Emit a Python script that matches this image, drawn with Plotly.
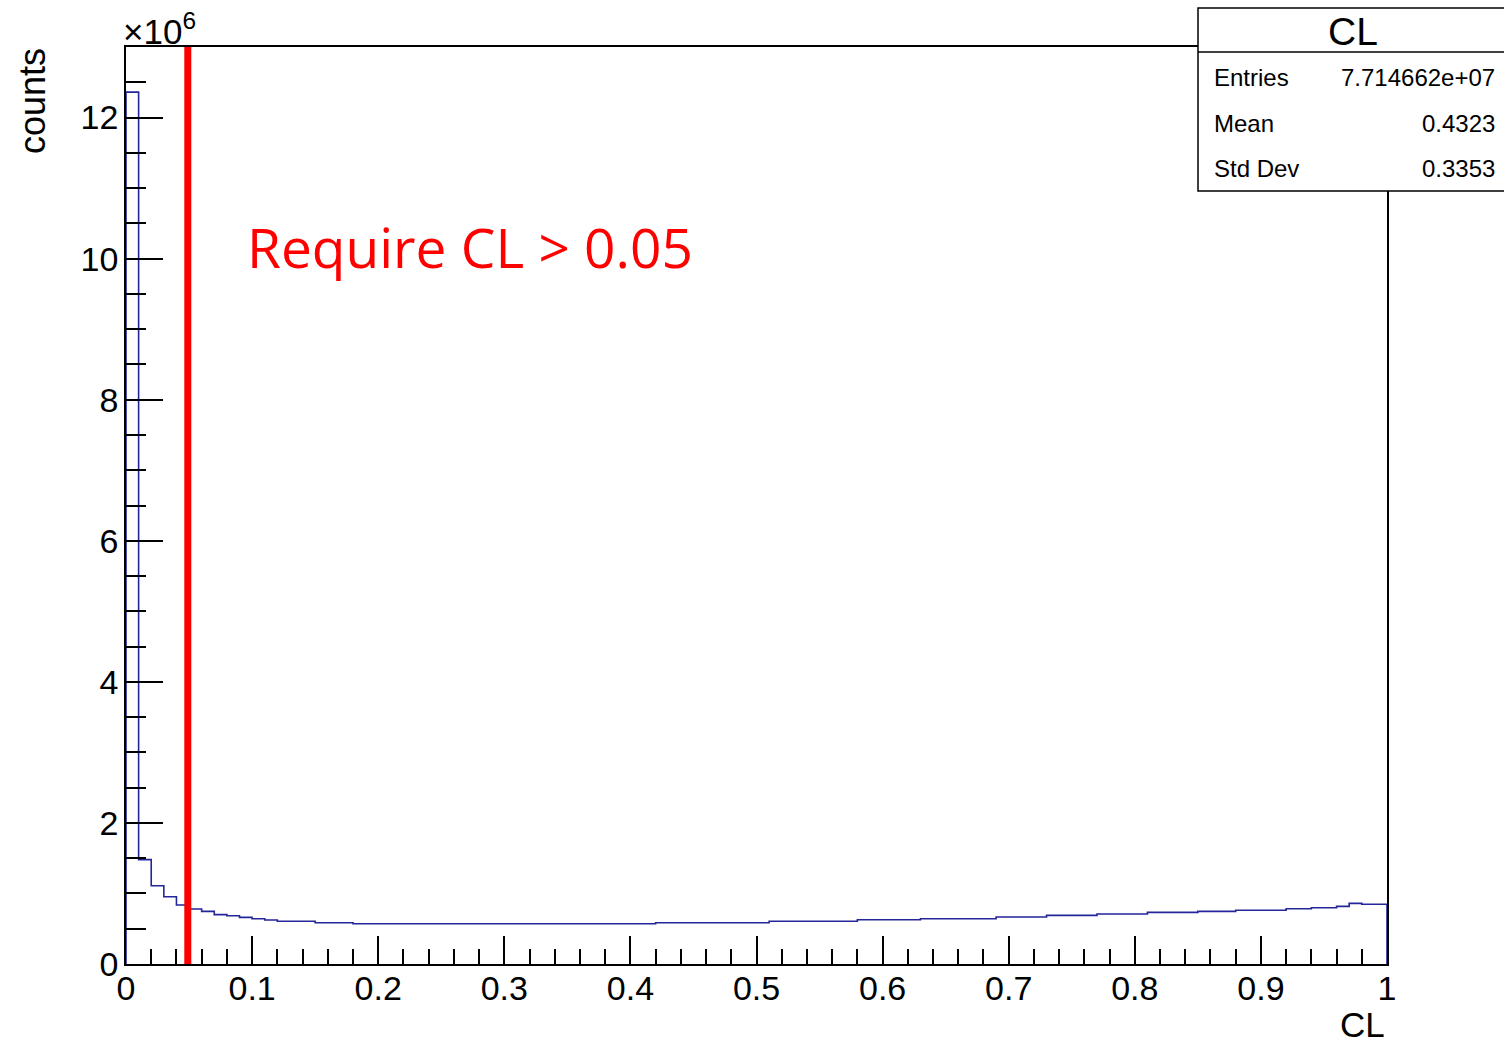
import numpy as np
import plotly.graph_objects as go

# ---------------- data (counts in units of 1e6, 100 bins over CL in [0,1]) --------------
n_bins = 100
bin_edges = np.linspace(0.0, 1.0, n_bins + 1)
counts_millions = [
    12.36, 1.48, 1.11, 0.954, 0.836, 0.779, 0.746, 0.700, 0.685, 0.661,
    0.642, 0.623, 0.607, 0.607, 0.607, 0.585, 0.585, 0.585, 0.571, 0.571,
    0.571, 0.571, 0.571, 0.571, 0.571, 0.571, 0.571, 0.571, 0.571, 0.571,
    0.571, 0.571, 0.571, 0.571, 0.571, 0.571, 0.571, 0.571, 0.571, 0.571,
    0.571, 0.571, 0.585, 0.585, 0.585, 0.585, 0.585, 0.585, 0.585, 0.585,
    0.585, 0.605, 0.605, 0.605, 0.605, 0.605, 0.605, 0.605, 0.628, 0.628,
    0.628, 0.628, 0.628, 0.642, 0.642, 0.642, 0.642, 0.642, 0.642, 0.666,
    0.666, 0.666, 0.666, 0.690, 0.690, 0.690, 0.690, 0.708, 0.708, 0.708,
    0.708, 0.732, 0.732, 0.732, 0.732, 0.746, 0.746, 0.746, 0.761, 0.761,
    0.761, 0.761, 0.784, 0.784, 0.798, 0.798, 0.817, 0.860, 0.846, 0.846,
]
cut_value = 0.049
stats_title = "CL"
stats_labels = ["Entries", "Mean", "Std Dev"]
stats_values = ["7.714662e+07", "0.4323", "0.3353"]
x_title = "CL"
y_title = "counts"
cut_label = "Require CL > 0.05"

# ---------------- figure geometry ----------------
W, H = 1504, 1046
L, R, T, B = 126, 1387, 47, 964   # plot area in pixels


def px(xp):
    return (xp - L) / (R - L)


def py(yp):
    return (B - yp) / (B - T)


# step outline
xs = [0.0] + list(bin_edges[:-1]) + [1.0, 1.0]
ys = [0.0] + list(counts_millions) + [counts_millions[-1], 0.0]

FONT = "Liberation Sans, Arial, Helvetica, sans-serif"

fig = go.Figure()
fig.add_trace(go.Scatter(
    x=xs, y=ys, mode="lines", line=dict(shape="hv", color="#25259a", width=1.6),
    hoverinfo="skip", showlegend=False,
))

fig.update_layout(
    width=W, height=H,
    margin=dict(l=L, r=W - R, t=T, b=H - B),
    paper_bgcolor="white", plot_bgcolor="white",
    font=dict(family=FONT, size=34, color="black"),
    showlegend=False,
)
fig.update_xaxes(
    range=[0, 1], dtick=0.1, tick0=0,
    ticks="inside", ticklen=28, tickwidth=1.5, tickcolor="black",
    minor=dict(dtick=0.02, ticks="inside", ticklen=15, tickwidth=1.5, tickcolor="black"),
    showline=True, linecolor="black", linewidth=1.5, mirror=True,
    showgrid=False, zeroline=False,
    tickfont=dict(size=34, family=FONT), ticklabelstandoff=-7,
)
fig.update_yaxes(
    range=[0, 13.0], dtick=2, tick0=0,
    ticks="inside", ticklen=37, tickwidth=1.5, tickcolor="black",
    minor=dict(dtick=0.5, ticks="inside", ticklen=20, tickwidth=1.5, tickcolor="black"),
    showline=True, linecolor="black", linewidth=1.5, mirror=True,
    showgrid=False, zeroline=False,
    tickfont=dict(size=34, family=FONT), ticklabelstandoff=-1,
)

# cut line
fig.add_shape(type="line", xref="x", yref="paper", x0=cut_value, x1=cut_value, y0=0, y1=1,
              line=dict(color="#ff0000", width=7), layer="above")

# cut label
fig.add_annotation(text=cut_label, xref="paper", yref="paper", x=px(245), y=py(247),
                   xanchor="left", yanchor="middle", showarrow=False,
                   font=dict(family="Open Sans, sans-serif", size=55, color="#ff0000"))

# exponent label
fig.add_annotation(text="×10<sup>6</sup>", xref="paper", yref="paper", x=px(121), y=py(29),
                   xanchor="left", yanchor="middle", showarrow=False,
                   font=dict(family=FONT, size=35))

# axis titles
fig.add_annotation(text=y_title, xref="paper", yref="paper", x=px(32), y=py(46),
                   xanchor="center", yanchor="top", textangle=-90, showarrow=False,
                   font=dict(family=FONT, size=36))
fig.add_annotation(text=x_title, xref="paper", yref="paper", x=px(1387), y=py(1046),
                   xanchor="right", yanchor="bottom", showarrow=False,
                   font=dict(family=FONT, size=35))

# stats box
fig.add_shape(type="rect", xref="paper", yref="paper", x0=px(1198), x1=px(1510),
              y0=py(191), y1=py(8), fillcolor="white", line=dict(color="black", width=1.5),
              layer="above")
fig.add_shape(type="line", xref="paper", yref="paper", x0=px(1198), x1=px(1510),
              y0=py(52), y1=py(52), line=dict(color="black", width=1.5), layer="above")
fig.add_annotation(text=stats_title, xref="paper", yref="paper", x=px(1353), y=py(32),
                   xanchor="center", yanchor="middle", showarrow=False,
                   font=dict(family=FONT, size=39))
for i, (lab, val) in enumerate(zip(stats_labels, stats_values)):
    yc = 77 + i * 46
    fig.add_annotation(text=lab, xref="paper", yref="paper", x=px(1212), y=py(yc),
                       xanchor="left", yanchor="middle", showarrow=False,
                       font=dict(family=FONT, size=24))
    fig.add_annotation(text=val, xref="paper", yref="paper", x=px(1497), y=py(yc),
                       xanchor="right", yanchor="middle", showarrow=False,
                       font=dict(family=FONT, size=24))

fig.write_html("out.html")
